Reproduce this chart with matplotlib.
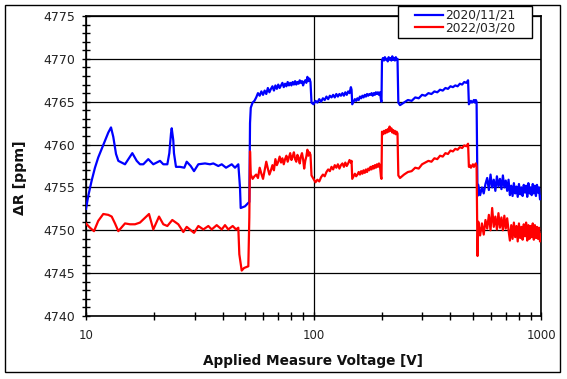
import matplotlib
matplotlib.use("Agg")
import matplotlib.pyplot as plt
from matplotlib.patches import Rectangle
from matplotlib.ticker import FixedLocator, NullFormatter, MultipleLocator

# ---------------- data ----------------
labels = ["2020/11/21", "2022/03/20"]
colors = ["#0000FF", "#FF0000"]

# sparse low-voltage part (10 V .. 52.6 V)
volt_2020_low = [10.0, 10.23, 10.59, 10.95, 11.32, 11.72, 12.12, 12.53, 12.88, 13.18,
                 13.55, 13.87, 14.35, 14.84, 15.35, 15.98, 16.71, 17.27, 17.86, 18.78,
                 19.76, 20.46, 21.15, 21.87, 22.78, 23.24, 23.64, 23.81, 24.05, 24.19,
                 24.36, 24.86, 25.89, 27.05, 27.71, 28.86, 29.84, 31.17, 33.35, 35.09,
                 36.28, 38.15, 39.50, 41.26, 43.70, 45.18, 46.72, 47.52, 47.86, 50.0,
                 51.70, 52.23, 52.6]
dr_2020_low = [4752.5, 4754.0, 4755.8, 4757.3, 4758.5, 4759.5, 4760.5, 4761.4, 4762.0, 4760.9,
               4758.9, 4758.1, 4757.9, 4757.7, 4758.3, 4759.0, 4758.1, 4757.7, 4757.7, 4758.3,
               4757.7, 4757.9, 4758.1, 4757.7, 4757.7, 4759.0, 4761.3, 4761.9, 4761.0, 4760.5,
               4759.0, 4757.4, 4757.4, 4757.3, 4758.0, 4757.5, 4756.9, 4757.7, 4757.8, 4757.7,
               4757.8, 4757.5, 4757.7, 4757.3, 4757.7, 4757.3, 4757.7, 4755.0, 4752.6, 4752.8,
               4753.2, 4753.3, 4762.5]

volt_2022_low = [10.0, 10.41, 10.84, 11.32, 11.91, 12.53, 12.97, 13.41, 13.87, 14.84,
                 15.61, 16.42, 17.27, 18.92, 19.76, 20.94, 21.87, 22.78, 23.95, 25.45,
                 26.78, 27.71, 29.84, 31.17, 32.80, 34.49, 35.69, 37.54, 39.50, 40.83,
                 42.22, 44.14, 45.64, 46.72, 47.2, 48.35, 49.51, 51.70, 52.23, 52.6]
dr_2022_low = [4750.8, 4750.3, 4749.9, 4751.1, 4751.9, 4751.8, 4751.6, 4750.8, 4749.9, 4750.8,
               4750.7, 4750.7, 4750.9, 4751.9, 4750.1, 4751.6, 4750.7, 4750.5, 4751.2, 4750.7,
               4749.8, 4750.4, 4749.7, 4750.5, 4750.1, 4750.5, 4750.1, 4750.6, 4750.1, 4750.6,
               4750.1, 4750.5, 4750.1, 4750.3, 4747.2, 4745.3, 4745.6, 4745.8, 4751.5, 4759.2]

# dense high-voltage part (53 V .. 1000 V), shared voltages
volt_high = (list(range(53, 98)) + list(range(98, 147, 2)) + [147]
             + list(range(148, 199, 2)) + [199] + list(range(200, 235, 2))
             + [236] + list(range(240, 471, 10)) + [478]
             + [482, 487, 492, 497, 502, 507, 512, 517, 521]
             + [526] + list(range(530, 1001, 10)))

dr_2020_high = (
    [4764.3, 4764.9, 4765.1, 4765.5, 4766.0, 4765.7, 4766.2, 4765.8, 4766.3, 4765.9,
     4766.6, 4766.1, 4766.5, 4766.8, 4766.3, 4766.9, 4766.5, 4767.0, 4766.6, 4766.9,
     4767.2, 4766.7, 4767.1, 4766.8, 4767.3, 4766.9, 4767.2, 4766.9, 4767.3, 4767.0,
     4767.4, 4767.0, 4767.3, 4767.1, 4767.5, 4767.2, 4767.4, 4766.9, 4767.3, 4767.5,
     4767.2, 4767.9, 4767.4, 4767.7, 4767.3]
    + [4764.9, 4764.7, 4765.1, 4764.9, 4765.3, 4765.0, 4765.4, 4765.2, 4765.6, 4765.3,
       4765.7, 4765.5, 4765.8, 4765.5, 4765.9, 4765.6, 4765.9, 4765.7, 4766.0, 4765.7,
       4766.1, 4765.8, 4766.2, 4766.0, 4766.7, 4766.4]
    + [4764.7, 4765.0, 4765.3, 4765.1, 4765.4, 4765.2, 4765.6, 4765.4, 4765.7, 4765.5,
       4765.8, 4765.6, 4765.9, 4765.7, 4765.9, 4765.8, 4766.0, 4765.7, 4766.0, 4765.8,
       4766.1, 4765.9, 4766.1, 4765.8, 4766.1, 4765.2, 4765.0]
    + [4769.8, 4770.1, 4769.8, 4770.2, 4769.9, 4770.0, 4769.7, 4770.2, 4769.9, 4770.1,
       4769.8, 4770.3, 4769.9, 4770.1, 4769.8, 4770.2, 4769.9, 4770.0]
    + [4764.9, 4764.6, 4764.9, 4765.2, 4765.1, 4765.5, 4765.4, 4765.8, 4765.7, 4766.0,
       4765.9, 4766.2, 4766.1, 4766.4, 4766.3, 4766.6, 4766.5, 4766.8, 4766.7, 4766.9,
       4766.8, 4767.1, 4767.0, 4767.3, 4767.2, 4767.5]
    + [4764.7, 4764.9, 4765.1, 4764.9, 4765.0, 4765.2, 4764.9, 4765.2, 4765.0]
    + [4754.0,
       4755.3, 4754.1, 4755.0, 4754.3, 4755.4,
       4756.1, 4754.7, 4756.5, 4755.0, 4755.9, 4754.6, 4756.3, 4755.1, 4756.0, 4754.8,
       4756.4, 4755.0, 4755.8, 4754.6, 4755.9,
       4754.1, 4755.2, 4754.0, 4755.5, 4754.3, 4755.1, 4753.9, 4755.4, 4754.2, 4755.0,
       4754.0, 4755.3, 4754.4, 4755.2, 4753.9, 4755.5, 4754.3, 4755.0, 4754.1, 4755.4,
       4754.3, 4755.2, 4754.0, 4755.3, 4754.4, 4755.0,
       4753.6, 4753.9]
)

dr_2022_high = (
    [4756.5, 4756.0, 4756.3, 4756.5, 4756.1, 4757.3, 4756.6, 4756.0, 4757.0, 4758.0,
     4757.2, 4756.5, 4757.0, 4757.6, 4757.0, 4758.3, 4757.6, 4758.0, 4758.6, 4757.9,
     4758.4, 4757.7, 4758.3, 4758.7, 4758.0, 4758.5, 4759.0, 4758.2, 4758.6, 4759.1,
     4758.3, 4758.0, 4758.8, 4758.4, 4757.8, 4758.6, 4759.0, 4758.3, 4757.2, 4758.1,
     4758.6, 4759.4, 4758.7, 4759.1, 4758.8]
    + [4756.4, 4756.0, 4755.6, 4755.9, 4755.7, 4756.2, 4756.5, 4756.3, 4756.8, 4757.1,
       4756.9, 4757.4, 4757.1, 4757.6, 4757.3, 4757.7, 4757.2, 4757.6, 4757.8, 4757.4,
       4757.9, 4757.5, 4757.8, 4758.2, 4757.9, 4758.1]
    + [4756.0, 4756.3, 4756.6, 4756.3, 4756.5, 4756.8, 4756.5, 4756.9, 4756.6, 4757.0,
       4756.7, 4757.1, 4756.8, 4757.2, 4757.0, 4757.4, 4757.1, 4757.5, 4757.2, 4757.6,
       4757.3, 4757.7, 4757.4, 4757.8, 4757.5, 4756.2, 4756.0]
    + [4761.5, 4761.2, 4761.6, 4761.3, 4761.7, 4761.4, 4761.8, 4761.5, 4762.1, 4761.6,
       4761.9, 4761.4, 4761.7, 4761.3, 4761.6, 4761.2, 4761.5, 4761.3]
    + [4756.4, 4756.1, 4756.5, 4756.8, 4756.9, 4757.3, 4757.2, 4757.7, 4757.9, 4758.1,
       4758.0, 4758.4, 4758.3, 4758.7, 4758.6, 4759.0, 4758.9, 4759.3, 4759.2, 4759.5,
       4759.4, 4759.7, 4759.6, 4759.9, 4759.8, 4760.1]
    + [4757.4, 4757.6, 4757.3, 4757.5, 4757.7, 4757.4, 4757.6, 4757.8, 4757.5]
    + [4747.0,
       4751.0, 4749.4, 4750.8, 4749.5, 4751.2,
       4750.2, 4751.8, 4750.0, 4752.6, 4750.4, 4751.6, 4750.1, 4752.0, 4750.3, 4751.5,
       4750.0, 4751.7, 4750.2, 4751.4, 4750.0,
       4748.8, 4750.6, 4749.0, 4750.9, 4749.2, 4750.5, 4748.7, 4750.8, 4749.1, 4750.4,
       4748.9, 4750.7, 4749.3, 4750.9, 4748.8, 4750.6, 4749.0, 4750.5, 4749.2, 4750.8,
       4748.9, 4750.6, 4749.1, 4750.4, 4749.0, 4750.3,
       4748.7, 4749.5]
)

y_ticks = [4740, 4745, 4750, 4755, 4760, 4765, 4770, 4775]
x_ticks = [10, 100, 1000]
x_ticklabels = ["10", "100", "1000"]

assert len(volt_2020_low) == len(dr_2020_low)
assert len(volt_2022_low) == len(dr_2022_low)
assert len(volt_high) == len(dr_2020_high) == len(dr_2022_high)

# ---------------- figure ----------------
W, H = 567, 379
fig = plt.figure(figsize=(W / 100, H / 100), dpi=100)
ax = fig.add_axes([86 / W, 1 - 316 / H, (541 - 86) / W, (316 - 16) / H])

l1, = ax.plot(volt_2020_low + volt_high, dr_2020_low + dr_2020_high,
              color=colors[0], lw=1.6, label=labels[0], zorder=3)
l2, = ax.plot(volt_2022_low + volt_high, dr_2022_low + dr_2022_high,
              color=colors[1], lw=1.6, label=labels[1], zorder=4)

ax.set_xscale("log")
ax.set_xlim(10, 1000)
ax.set_ylim(4740, 4775)

ax.xaxis.set_major_locator(FixedLocator(x_ticks))
ax.set_xticklabels(x_ticklabels)
ax.xaxis.set_minor_locator(FixedLocator([20, 30, 40, 50, 60, 70, 80, 90,
                                         200, 300, 400, 500, 600, 700, 800, 900]))
ax.xaxis.set_minor_formatter(NullFormatter())
ax.yaxis.set_major_locator(FixedLocator(y_ticks))
ax.yaxis.set_minor_locator(MultipleLocator(1))

ax.grid(True, which="major", color="black", lw=0.9)
ax.set_axisbelow(True)

ax.tick_params(which="both", direction="inout", length=5.5, width=1.0,
               color="black", top=False, right=False)
ax.tick_params(axis="x", which="major", labelsize=8.5, pad=6.5, labelcolor="#222222")
ax.tick_params(axis="y", which="major", labelsize=9, pad=5.0, labelcolor="#222222")

for sp in ax.spines.values():
    sp.set_linewidth(1.2)
    sp.set_color("black")

# axis labels
fig.text(313 / W, 1 - 364.5 / H, "Applied Measure Voltage [V]", ha="center",
         va="baseline", fontsize=9.8, fontweight="bold", color="#111111")
fig.text(20 / W, 1 - 178 / H, "\u0394R [ppm]", ha="center", va="center",
         rotation=90, fontsize=10.2, fontweight="bold", color="#111111")

# outer frame
fig.patches.append(Rectangle((5 / W, 1 - 372 / H), 555 / W, 367 / H,
                             transform=fig.transFigure, fill=False,
                             edgecolor="black", lw=1.0))

# legend box and entries
fig.patches.append(Rectangle((398 / W, 1 - 38 / H), 134 / W, 32 / H,
                             transform=fig.transFigure, facecolor="white",
                             edgecolor="black", lw=1.0, zorder=5))
leg = fig.legend(handles=[l1, l2], labels=labels, loc="upper left",
                 bbox_to_anchor=(415 / W, 1 - 9 / H),
                 bbox_transform=fig.transFigure, frameon=False, fontsize=8.8,
                 borderpad=0, borderaxespad=0, handlelength=2.3,
                 handletextpad=0.15, labelspacing=-0.05)
leg.set_zorder(10)
for t in leg.get_texts():
    t.set_color("#222222")

fig.savefig("out.png", dpi=100)
